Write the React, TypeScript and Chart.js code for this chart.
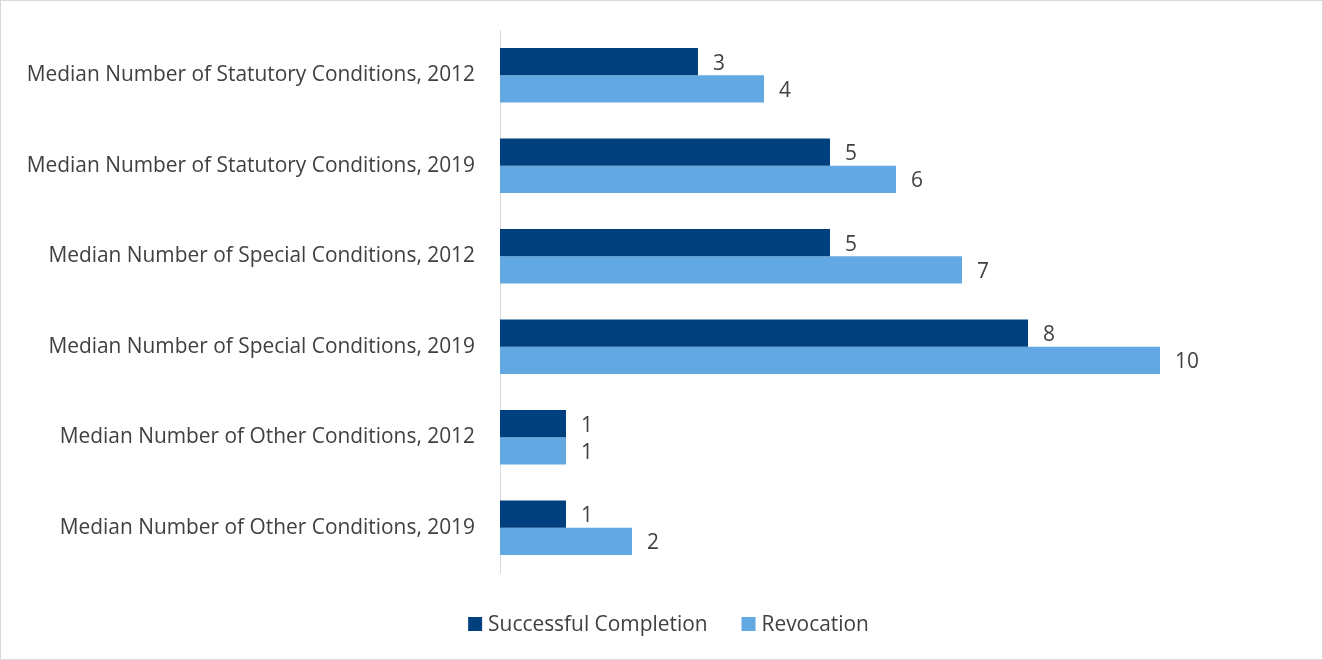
import React, { useEffect, useRef } from "react";
import { Chart, registerables } from "chart.js";

Chart.register(...registerables);

const categories = [
  "Median Number of Statutory Conditions, 2012",
  "Median Number of Statutory Conditions, 2019",
  "Median Number of Special Conditions, 2012",
  "Median Number of Special Conditions, 2019",
  "Median Number of Other Conditions, 2012",
  "Median Number of Other Conditions, 2019",
];
const successfulCompletion = [3, 5, 5, 8, 1, 1];
const revocation = [4, 6, 7, 10, 1, 2];
const seriesLabels = ["Successful Completion", "Revocation"];
const seriesColors = ["#00407E", "#62A8E2"];

const FONT = "'Open Sans', sans-serif";
const FS = 20.9;

const valueLabels = {
  id: "valueLabels",
  afterDatasetsDraw(chart: any) {
    const ctx = chart.ctx;
    ctx.save();
    ctx.fillStyle = "#404040";
    ctx.font = `${FS}px ${FONT}`;
    ctx.textBaseline = "middle";
    ctx.textAlign = "left";
    chart.data.datasets.forEach((ds: any, di: number) => {
      const meta = chart.getDatasetMeta(di);
      meta.data.forEach((bar: any, i: number) => {
        ctx.fillText(String(ds.data[i]), bar.x + 15, bar.y + 2);
      });
    });
    ctx.restore();
  },
};

const customLegend = {
  id: "customLegend",
  afterDraw(chart: any) {
    const ctx = chart.ctx;
    ctx.save();
    ctx.font = `${FS}px ${FONT}`;
    ctx.textBaseline = "middle";
    const box = 14;
    const gap = 6;
    const itemGap = 34;
    const widths = chart.data.datasets.map(
      (ds: any) => box + gap + ctx.measureText(ds.label).width
    );
    const total =
      widths.reduce((a: number, b: number) => a + b, 0) +
      itemGap * (widths.length - 1);
    let x = (chart.width - total) / 2 + 7;
    const y = 623;
    chart.data.datasets.forEach((ds: any, i: number) => {
      ctx.fillStyle = ds.backgroundColor;
      ctx.fillRect(x, y - box / 2, box, box);
      ctx.fillStyle = "#404040";
      ctx.fillText(ds.label, x + box + gap, y + 1);
      x += widths[i] + itemGap;
    });
    ctx.restore();
  },
};

export default function App() {
  const ref = useRef<HTMLCanvasElement | null>(null);
  useEffect(() => {
    document.body.style.margin = "0";
    const chart = new Chart(ref.current!, {
      type: "bar",
      data: {
        labels: categories,
        datasets: [
          {
            label: seriesLabels[0],
            data: successfulCompletion,
            backgroundColor: seriesColors[0],
            categoryPercentage: 0.6,
            barPercentage: 1.0,
          },
          {
            label: seriesLabels[1],
            data: revocation,
            backgroundColor: seriesColors[1],
            categoryPercentage: 0.6,
            barPercentage: 1.0,
          },
        ],
      },
      options: {
        indexAxis: "y",
        animation: false,
        responsive: false,
        layout: { padding: { top: 29, right: 30, left: 0, bottom: 86 } },
        scales: {
          x: {
            display: false,
            min: 0,
            max: 12,
          },
          y: {
            grid: { display: false },
            border: { display: true, color: "#D9D9D9", width: 1 },
            ticks: {
              color: "#404040",
              font: { family: FONT, size: FS },
              padding: 17,
            },
            afterFit(scale: any) {
              scale.width = 499;
              scale.paddingTop = 0;
              scale.paddingBottom = 0;
            },
          },
        },
        plugins: {
          legend: { display: false },
          tooltip: { enabled: false },
        },
      },
      plugins: [valueLabels, customLegend],
    });
    return () => chart.destroy();
  }, []);
  return (
    <div
      style={{
        position: "absolute",
        left: 0,
        top: 0,
        width: 1321,
        height: 658,
        border: "1px solid #D9D9D9",
        background: "#fff",
      }}
    >
      <canvas ref={ref} width={1321} height={658} />
    </div>
  );
}
